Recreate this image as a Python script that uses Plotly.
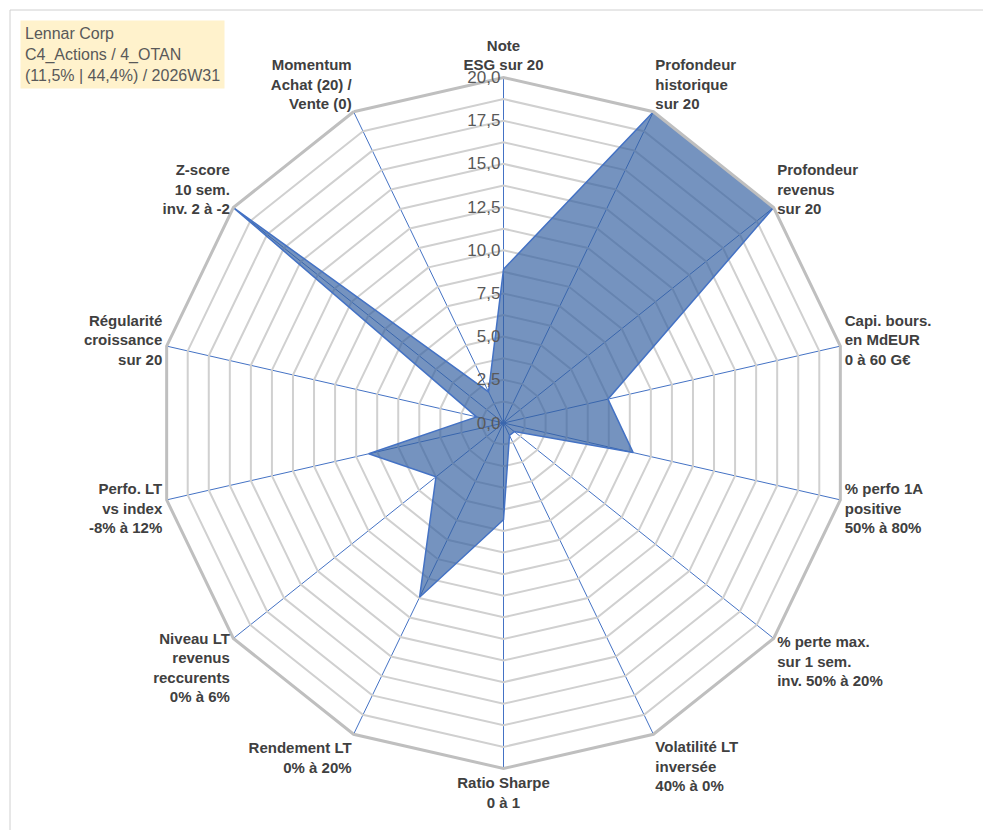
import plotly.graph_objects as go

categories = [
    "Note<br>ESG sur 20",
    "Profondeur<br>historique<br>sur 20",
    "Profondeur<br>revenus<br>sur 20",
    "Capi. bours.<br>en MdEUR<br>0 à 60 G€",
    "% perfo 1A<br>positive<br>50% à 80%",
    "% perte max.<br>sur 1 sem.<br>inv. 50% à 20%",
    "Volatilité LT<br>inversée<br>40% à 0%",
    "Ratio Sharpe<br>0 à 1",
    "Rendement LT<br>0% à 20%",
    "Niveau LT<br>revenus<br>reccurents<br>0% à 6%",
    "Perfo. LT<br>vs index<br>-8% à 12%",
    "Régularité<br>croissance<br>sur 20",
    "Z-score<br>10 sem.<br>inv. 2 à -2",
    "Momentum<br>Achat (20) /<br>Vente (0)",
]
values = [8.9, 20, 20, 6.2, 7.7, 0.8, 0.8, 5.6, 11.2, 5.0, 8.0, 1.6, 20, 2.0]
tick_vals = [i * 1.25 for i in range(17)]
tick_text = [("%.1f" % v).replace(".", ",") if i % 2 == 0 else "" for i, v in enumerate(tick_vals)]

W, H = 991, 830
ml, mr, mt, mb = 150, 150, 66, 66
pw, ph = W - ml - mr, H - mt - mb

fig = go.Figure(go.Scatterpolar(
    r=values + values[:1], theta=categories + categories[:1],
    mode="lines", fill="toself",
    line=dict(color="#4472C4", width=1.5),
    fillcolor="rgba(52,96,160,0.68)",
))
fig.update_layout(
    width=W, height=H,
    paper_bgcolor="white", showlegend=False,
    font=dict(family="Liberation Sans, Arial", size=15, color="#404040"),
    margin=dict(l=ml, r=mr, t=mt, b=mb),
    polar=dict(
        gridshape="linear", bgcolor="white",
        domain=dict(x=[0, 1], y=[0, 1]),
        angularaxis=dict(direction="clockwise", rotation=90,
                         linecolor="#bfbfbf", linewidth=3,
                         gridcolor="#4472C4", gridwidth=1,
                         tickfont=dict(size=15, color="#404040", weight="bold"),
                         ticks=""),
        radialaxis=dict(range=[0, 20], tickvals=tick_vals, ticktext=tick_text,
                        angle=90, tickangle=90, side="counterclockwise",
                        showline=False, ticks="",
                        gridcolor="#d0d0d0", gridwidth=2,
                        tickfont=dict(size=17, color="#595959")),
    ),
    shapes=[dict(type="rect", xref="paper", yref="paper",
                 x0=-(ml - 2) / pw, x1=1 + (mr - 2) / pw,
                 y0=-(mb - 2) / ph, y1=1 + (mt - 2) / ph,
                 line=dict(color="#d0d0d0", width=1))],
    annotations=[dict(
        xref="paper", yref="paper", x=-(ml - 12) / pw, y=1 + (mt - 12) / ph,
        xanchor="left", yanchor="top",
        align="left", showarrow=False, bgcolor="#FFF2CC", borderpad=4,
        text="Lennar Corp<br>C4_Actions / 4_OTAN<br>(11,5% | 44,4%) / 2026W31",
        font=dict(size=16, color="#595959"),
    )],
)
fig.write_html("out.html")
